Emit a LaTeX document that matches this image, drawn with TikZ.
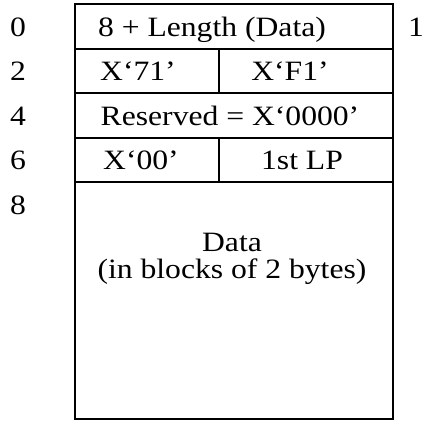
\documentclass[tikz,border=0pt]{standalone}
\usepackage{fontspec}
\setmainfont{Liberation Serif}[FakeStretch=1.13]
\begin{document}
\begin{tikzpicture}[x=1pt,y=-1pt,
  cell/.style={draw=black, line width=1.8pt, rectangle, inner sep=0pt},
  txt/.style={anchor=base, inner sep=0pt, font=\fontsize{28}{33}\selectfont},
]
\useasboundingbox (0,0) rectangle (423,421);
% cells
\node[cell, minimum width=318pt, minimum height=45pt] (r0) at (234,26.5) {};
\node[cell, minimum width=144pt, minimum height=44pt] (r2a) at (147,71) {};
\node[cell, minimum width=174pt, minimum height=44pt] (r2b) at (306,71) {};
\node[cell, minimum width=318pt, minimum height=45pt] (r4) at (234,115.5) {};
\node[cell, minimum width=144pt, minimum height=44pt] (r6a) at (147,160) {};
\node[cell, minimum width=174pt, minimum height=44pt] (r6b) at (306,160) {};
\node[cell, minimum width=318pt, minimum height=237pt] (rd) at (234,300.5) {};
% cell texts
\node[txt] (t0) at (212,36) {8 + Length (Data)};
\node[txt] (t2a) at (138,80.5) {X`71'};
\node[txt] (t2b) at (290,80.5) {X`F1'};
\node[txt] (t4) at (230,125) {Reserved = X`0000'};
\node[txt] (t6a) at (141,169.5) {X`00'};
\node[txt] (t6b) at (302,169.5) {1st LP};
\node[txt] (td1) at (232,251) {Data};
\node[txt] (td2) at (232,278) {(in blocks of 2 bytes)};
% offsets
\node[txt] (l0) at (18,36) {0};
\node[txt] (l1) at (416,36) {1};
\node[txt] (l2) at (18,80.5) {2};
\node[txt] (l4) at (18,125) {4};
\node[txt] (l6) at (18,169.5) {6};
\node[txt] (l8) at (18,214) {8};
\end{tikzpicture}
\end{document}
